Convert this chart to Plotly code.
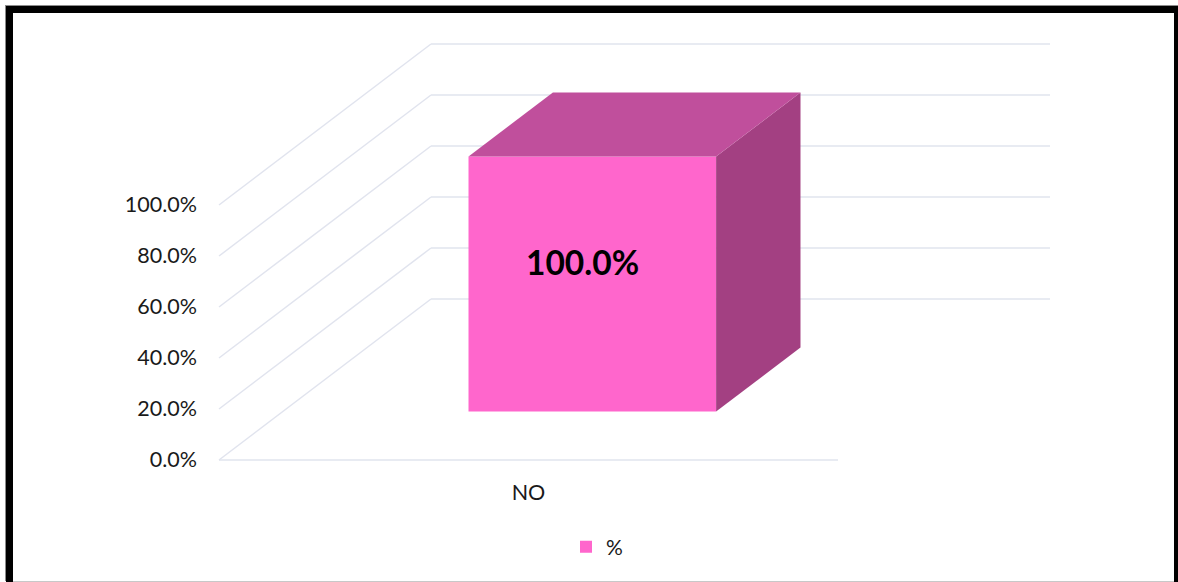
import plotly.graph_objects as go

# --- data ---
categories = ["NO"]
values = [1.0]
series_name = "%"
value_ticks = [0.0, 0.2, 0.4, 0.6, 0.8, 1.0]

# --- picture geometry (pixels), used only to set up the axes and the oblique projection ---
W, H = 1178, 582
AXIS_X0, AXIS_X1 = 219, 838      # floor front edge
AXIS_Y0, UNIT_PX = 460, 255      # pixel of value 0; pixels per 100 %
WALL_DX = 212 / 619              # whole depth, in x units
WALL_DY = 161 / 255              # whole depth, in y units
WALL_RIGHT = 1050
X_UNIT = AXIS_X1 - AXIS_X0
X_CENTER = (AXIS_X0 + AXIS_X1) / 2
BAR_WIDTH = 0.4
DEPTH_FRONT, DEPTH_BACK = 0.301, 0.699

GRID = "#e1e4ee"
FRONT, SIDE, TOP = "#ff66cc", "#a34082", "#c04f9c"
FONT = "Lato, Carlito, Calibri, sans-serif"

x_range = [(0 - X_CENTER) / X_UNIT, (W - X_CENTER) / X_UNIT]
y_range = [(AXIS_Y0 - H) / UNIT_PX, AXIS_Y0 / UNIT_PX]


def project(x, v, depth):
    return x + depth * WALL_DX, v + depth * WALL_DY


fig = go.Figure()
shapes = []


def line_shape(p, q):
    shapes.append(dict(type="line", xref="x", yref="y", layer="below",
                       x0=p[0], y0=p[1], x1=q[0], y1=q[1],
                       line=dict(color=GRID, width=1.5)))


x_left = -0.5
x_right_back = (WALL_RIGHT - X_CENTER) / X_UNIT - WALL_DX
for v in value_ticks:
    line_shape(project(x_left, v, 0), project(x_left, v, 1))
    line_shape(project(x_left, v, 1), project(x_right_back, v, 1))
line_shape(project(-0.5, 0, 0), project(0.5, 0, 0))

for i, (cat, val) in enumerate(zip(categories, values)):
    left, right = i - BAR_WIDTH / 2, i + BAR_WIDTH / 2
    fx, fbase = project(i, 0, DEPTH_FRONT)
    fig.add_trace(go.Bar(x=[fx], y=[val], base=[fbase], width=[BAR_WIDTH],
                         name=series_name, marker=dict(color=FRONT, line=dict(width=0)),
                         hoverinfo="skip", showlegend=True))
    side = [project(right, 0, DEPTH_FRONT), project(right, 0, DEPTH_BACK),
            project(right, val, DEPTH_BACK), project(right, val, DEPTH_FRONT)]
    top = [project(left, val, DEPTH_FRONT), project(left, val, DEPTH_BACK),
           project(right, val, DEPTH_BACK), project(right, val, DEPTH_FRONT)]
    for poly, col in ((side, SIDE), (top, TOP)):
        fig.add_trace(go.Scatter(x=[p[0] for p in poly] + [poly[0][0]],
                                 y=[p[1] for p in poly] + [poly[0][1]],
                                 mode="lines", fill="toself", fillcolor=col,
                                 line=dict(width=0, color=col), showlegend=False,
                                 hoverinfo="skip"))
    fig.add_annotation(x=fx, y=fbase + val / 2, text=f"<b>{val:.1%}</b>", showarrow=False,
                       xshift=-10, yshift=22, font=dict(family=FONT, size=33.5, color="#000000"))


def frame(x0, y0, x1, y1, color):
    shapes.append(dict(type="rect", xref="paper", yref="paper", layer="above",
                       x0=x0 / W, x1=x1 / W, y0=1 - y0 / H, y1=1 - y1 / H,
                       fillcolor=color, line=dict(width=0)))


frame(5, 5, W, 6, "#8c8c8c")
frame(5, 5, 6, 581, "#8c8c8c")
frame(6, 6, W, 13, "#000000")
frame(6, 6, 13, H, "#000000")
frame(1174, 6, W, H, "#000000")
frame(13, 581, 1174, H, "#c8c8c8")

fig.update_layout(
    width=W, height=H, margin=dict(l=0, r=0, t=0, b=0),
    paper_bgcolor="#ffffff", plot_bgcolor="rgba(0,0,0,0)",
    font=dict(family=FONT, size=21.5, color="#1a1a1a"),
    shapes=shapes, barmode="overlay",
    xaxis=dict(range=x_range, domain=[0, 1], anchor="free",
               position=1 - AXIS_Y0 / H, tickmode="array",
               tickvals=list(range(len(categories))), ticktext=categories,
               showgrid=False, zeroline=False, showline=False, ticks="",
               ticklabelstandoff=17, automargin=False, fixedrange=True),
    yaxis=dict(range=y_range, domain=[0, 1], anchor="free",
               position=AXIS_X0 / W, tickmode="array", tickvals=value_ticks,
               tickformat=".1%", showgrid=False, zeroline=False, showline=False,
               ticks="", ticklabelstandoff=22, ticklabelshift=-1,
               automargin=False, fixedrange=True),
    legend=dict(orientation="h", x=566 / W, xanchor="left", y=1 - 547 / H, yanchor="middle",
                bgcolor="rgba(0,0,0,0)", font=dict(size=21), itemclick=False,
                itemdoubleclick=False),
)

fig.write_html("out.html", config={"displayModeBar": False},
               post_script="document.body.style.margin='0';document.documentElement.style.overflow='hidden';")
